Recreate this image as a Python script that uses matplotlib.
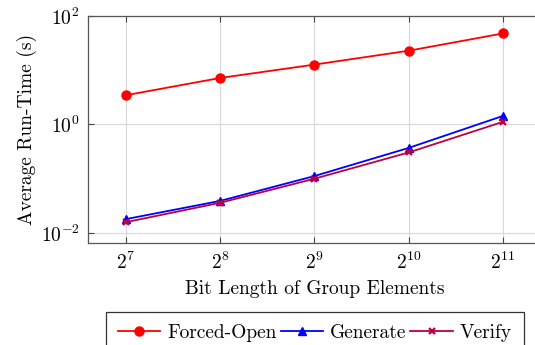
import numpy as np
import matplotlib
matplotlib.use('Agg')
import matplotlib.pyplot as plt

# bit length exponents (2^k) and average run-times in seconds
bit_exp = [7, 8, 9, 10, 11]
forced_open = [3.46, 7.2, 12.7, 22.9, 47.7]
generate = [0.018, 0.039, 0.112, 0.37, 1.44]
verify = [0.0158, 0.036, 0.100, 0.305, 1.12]

plt.rcParams['font.family'] = 'cmr10'
plt.rcParams['mathtext.fontset'] = 'cm'
plt.rcParams['axes.formatter.use_mathtext'] = True
plt.rcParams['font.size'] = 14

fig = plt.figure(figsize=(5.35, 3.45), dpi=100)
ax = fig.add_axes([88/535, 1-243.3/345, (540.7-88)/535, (243.3-16)/345])

ax.plot(bit_exp, forced_open, color='#ff0000', marker='o', ms=6.5, lw=1.3,
        label='Forced-Open')
ax.plot(bit_exp, generate, color='#0000ff', marker='^', ms=6, lw=1.3,
        label='Generate')
ax.plot(bit_exp, verify, color='#bf0040', marker='x', ms=4.5, mew=1.6, lw=1.3,
        label='Verify')

ax.set_yscale('log')
ax.set_xlim(6.6, 11.4)
ax.set_ylim(10**-2.19, 10**1.99)
ax.set_xticks(bit_exp)
ax.set_xticklabels(['$2^{%d}$' % k for k in bit_exp])
ax.set_yticks([1e-2, 1e0, 1e2])
ax.set_yticklabels(['$10^{-2}$', '$10^{0}$', '$10^{2}$'])
ax.yaxis.set_minor_locator(matplotlib.ticker.NullLocator())

ax.grid(True, color='#d8d8d8', lw=0.8)
ax.set_axisbelow(True)
ax.tick_params(direction='in', top=True, right=True, length=4,
               color='#444444', labelsize=14, pad=6)
for s in ax.spines.values():
    s.set_color('#555555')
    s.set_linewidth(0.9)

ax.set_xlabel('Bit Length of Group Elements', fontsize=14, labelpad=5)
ax.set_ylabel('Average Run-Time (s)', fontsize=14, labelpad=3)

leg = fig.legend(loc='upper left', bbox_to_anchor=(106/535, 1-312/345),
                 ncol=3, frameon=True, fancybox=False, fontsize=14,
                 handlelength=2.2, handletextpad=0.35, columnspacing=0.2,
                 borderpad=0.6, borderaxespad=0)
leg._legend_box.align = 'left'
leg.get_frame().set_edgecolor('black')
leg.get_frame().set_linewidth(0.9)

fig.savefig('out.png', dpi=100)
